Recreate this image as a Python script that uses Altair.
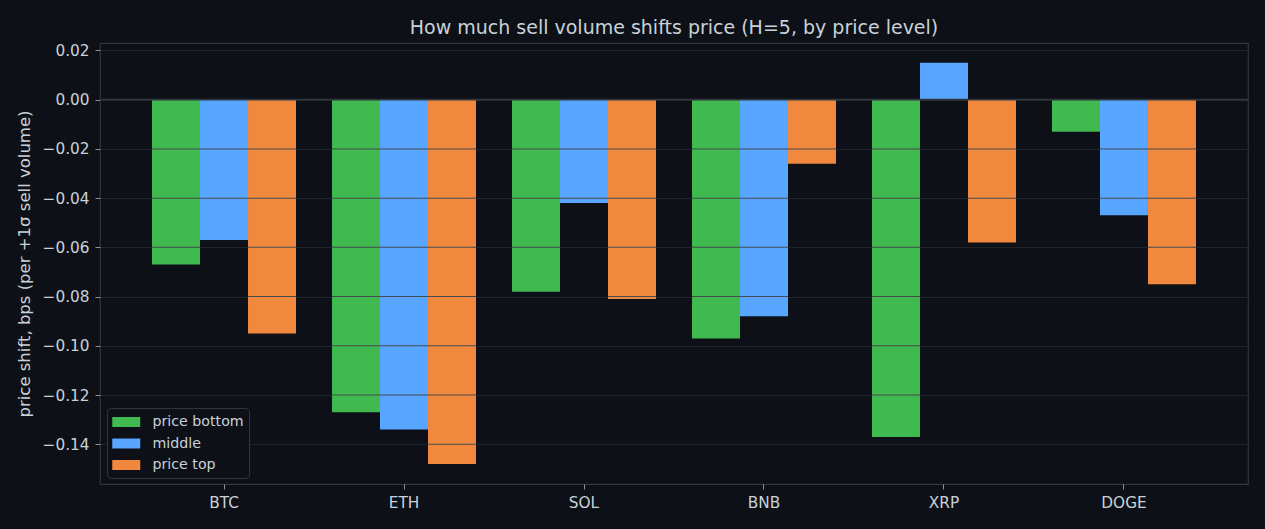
import altair as alt
import pandas as pd

coins = ["BTC", "ETH", "SOL", "BNB", "XRP", "DOGE"]
levels = ["price bottom", "middle", "price top"]
price_bottom = [-0.067, -0.127, -0.078, -0.097, -0.137, -0.013]
price_middle = [-0.057, -0.134, -0.042, -0.088, 0.015, -0.047]
price_top = [-0.095, -0.148, -0.081, -0.026, -0.058, -0.075]
y_ticks = [0.02, 0.0, -0.02, -0.04, -0.06, -0.08, -0.10, -0.12, -0.14]
colors = ["#3fb950", "#58a6ff", "#f0883e"]

rows = []
for lvl, vals in zip(levels, [price_bottom, price_middle, price_top]):
    for c, v in zip(coins, vals):
        rows.append({"coin": c, "level": lvl, "value": v})
df = pd.DataFrame(rows)

# grid lines that show through the bars
grid_rows = []
for r in rows:
    for t in y_ticks:
        if t == 0:
            continue
        if (r["value"] < 0 and r["value"] < t < 0) or (r["value"] > 0 and 0 < t < r["value"]):
            grid_rows.append({"coin": r["coin"], "level": r["level"], "t": t})
gdf = pd.DataFrame(grid_rows)

TEXT = "#c9d1d9"
ysc = alt.Scale(domain=[-0.1561, 0.0230], nice=False, zero=False)
xsc = alt.Scale(paddingInner=0.2, paddingOuter=0.289)
offsc = alt.Scale(paddingInner=0, paddingOuter=0)

legend_path = "M-1,-0.57H2.2V0.57H-1Z"

bars = alt.Chart(df).mark_bar(opacity=1).encode(
    x=alt.X("coin:N", sort=coins, scale=xsc,
            axis=alt.Axis(title=None, labelAngle=0, grid=False, domain=False,
                          tickColor="#8b949e", tickSize=5, labelPadding=6)),
    xOffset=alt.XOffset("level:N", sort=levels, scale=offsc),
    y=alt.Y("value:Q", scale=ysc,
            axis=alt.Axis(title="price shift, bps (per +1σ sell volume)", values=y_ticks,
                          labelExpr="replace(format(datum.value, '.2f'), '-', '\u2212')",
                          grid=True, gridColor="#1f242b", domain=False,
                          tickColor="#8b949e", tickSize=5, labelPadding=6, titlePadding=10,
                          titleFontSize=16.5)),
    color=alt.Color("level:N", sort=levels,
                    scale=alt.Scale(domain=levels, range=colors),
                    legend=alt.Legend(orient="none", legendX=7, legendY=365, title=None,
                                      fillColor="#0d1117", strokeColor="#30363d",
                                      padding=5, cornerRadius=4, symbolType=legend_path,
                                      symbolSize=306, symbolStrokeWidth=0, symbolOpacity=1,
                                      labelFontSize=14.2, labelColor=TEXT, labelOffset=22.5,
                                      rowPadding=4.5, labelFont="DejaVu Sans")),
)

grid_over = alt.Chart(gdf).mark_tick(orient="horizontal", size=48, thickness=1,
                                     color="#464b50", opacity=1).encode(
    x=alt.X("coin:N", sort=coins, scale=xsc),
    xOffset=alt.XOffset("level:N", sort=levels, scale=offsc),
    y=alt.Y("t:Q", scale=ysc),
)

zero = alt.Chart(pd.DataFrame({"z": [0.0]})).mark_rule(color="#30363d", strokeWidth=1.6).encode(
    y=alt.Y("z:Q", scale=ysc)
)

chart = alt.layer(bars, grid_over, zero).properties(
    width=1148, height=441,
    title=alt.Title("How much sell volume shifts price (H=5, by price level)",
                    fontSize=19, color=TEXT, font="DejaVu Sans", fontWeight="normal",
                    anchor="middle", offset=5),
    autosize=alt.AutoSizeParams(type="none"),
    padding={"left": 100, "top": 43, "right": 17, "bottom": 45},
    background="#0d1117",
).configure_view(
    stroke="#30363d", strokeWidth=1.2, fill="#0d1117"
).configure_axis(
    labelFont="DejaVu Sans", titleFont="DejaVu Sans", labelColor=TEXT, titleColor=TEXT,
    labelFontSize=15.3, titleFontWeight="normal",
)

chart.save("out.html", embed_options={"renderer": "svg", "actions": False})
